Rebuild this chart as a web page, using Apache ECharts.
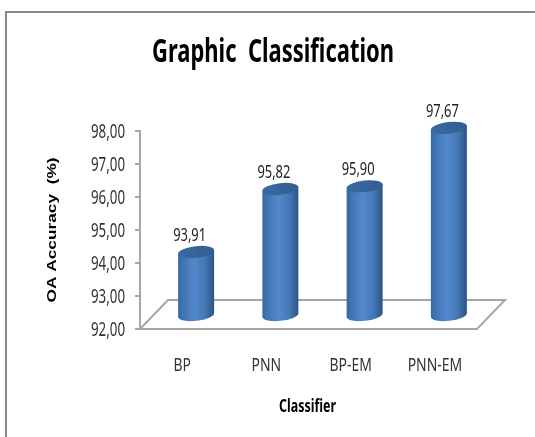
<!DOCTYPE html>
<html>
<head>
<meta charset="utf-8">
<style>html,body{margin:0;padding:0;background:#fff}#chart{width:535px;height:437px}</style>
<script src="https://cdn.jsdelivr.net/npm/echarts@6/dist/echarts.min.js"></script>
</head>
<body>
<div id="chart"></div>
<script>
// Classifier accuracy, drawn as pseudo-3D cylinders standing on a floor plane.
const categories = ['BP', 'PNN', 'BP-EM', 'PNN-EM'];
const accuracy = [93.91, 95.82, 95.90, 97.67];
const yTickValues = [92, 93, 94, 95, 96, 97, 98];
const chartTitle = 'Graphic  Classification';
const xTitle = 'Classifier';
const yTitle = 'OA Accuracy  (%)';

const FAMILY = '"Noto Sans",sans-serif';
const DEPTH = { x: 14, y: -14 };     // offset of the bar row from the front axis plane
const FLOOR = { x: 28, y: -29 };     // full depth of the floor plane
const RX = 18, RY = 5.8, TILT = -6.5; // cylinder cap ellipse
const yMin = yTickValues[0], yMax = yTickValues[yTickValues.length - 1];

const comma = v => v.toFixed(2).replace('.', ',');

// Horizontal scale that squeezes a string to a given pixel width.
const ruler = document.createElement('canvas').getContext('2d');
function fit(text, font, width) {
  ruler.font = font;
  return width / ruler.measureText(text).width;
}

const TICK_FONT = '19px ' + FAMILY;
const VALUE_FONT = '18px ' + FAMILY;
const CAT_FONT = '18px ' + FAMILY;
const tickScale = fit('98,00', TICK_FONT, 34);
const valueScale = fit('93,91', VALUE_FONT, 33);
const catScale = fit('PNN-EM', CAT_FONT, 54.5);

function cylinder(params, api) {
  const p = api.coord([api.value(0), api.value(1)]);
  const b = api.coord([api.value(0), yMin]);
  const cx = p[0] + DEPTH.x;
  const top = p[1] + DEPTH.y, bot = b[1] + DEPTH.y;
  const dy = RX * Math.sin(-TILT * Math.PI / 180);
  const l = cx - RX, r = cx + RX;
  const body = `M${l} ${top + dy}L${l} ${bot + dy}A${RX} ${RY} ${TILT} 0 0 ${r} ${bot - dy}L${r} ${top - dy}Z`;
  const cap = `M${l} ${top + dy}A${RX} ${RY} ${TILT} 1 1 ${r} ${top - dy}A${RX} ${RY} ${TILT} 1 1 ${l} ${top + dy}Z`;
  return {
    type: 'group',
    children: [
      { type: 'path', shape: { pathData: body },
        style: { fill: new echarts.graphic.LinearGradient(0, 0, 1, 0, [
          { offset: 0, color: '#37679f' }, { offset: 0.12, color: '#3f74b3' },
          { offset: 0.45, color: '#5389cc' }, { offset: 0.75, color: '#4377b5' },
          { offset: 0.92, color: '#345f92' }, { offset: 1, color: '#2d5482' }
        ]) } },
      { type: 'path', shape: { pathData: cap },
        style: { fill: new echarts.graphic.LinearGradient(0, 0, 1, 0, [
          { offset: 0, color: '#3a6aa2' }, { offset: 1, color: '#315e92' }
        ]) } },
      { type: 'text', x: cx - 6.5, y: top - 16, scaleX: valueScale,
        style: { text: comma(api.value(1)), align: 'center', verticalAlign: 'middle', font: VALUE_FONT, fill: '#222' } }
    ]
  };
}

function floorPlane(params, api) {
  const a = api.coord([0, yMin]);
  const w = api.size([1, 0])[0];
  const x0 = a[0] - w / 2, x1 = x0 + categories.length * w, y = a[1];
  return {
    type: 'polygon',
    shape: { points: [[x0, y], [x1, y], [x1 + FLOOR.x, y + FLOOR.y], [x0 + FLOOR.x, y + FLOOR.y]] },
    style: { fill: '#fff', stroke: '#a6a6a6', lineWidth: 2 }
  };
}

function tickLabel(params, api) {
  const p = api.coord([0, api.value(0)]);
  return { type: 'text', x: 125, y: p[1] + 1.5, scaleX: tickScale,
    style: { text: comma(api.value(0)), align: 'right', verticalAlign: 'middle', font: TICK_FONT, fill: '#333' } };
}

function categoryLabel(params, api) {
  const p = api.coord([api.value(0), yMin]);
  return { type: 'text', x: p[0], y: p[1] + 36.5, scaleX: catScale,
    style: { text: categories[api.value(0)], align: 'center', verticalAlign: 'middle', font: CAT_FONT, fill: '#333' } };
}

function stretchedText(text, font, width, x, y, extra) {
  return Object.assign({
    type: 'text', silent: true, x, y, scaleX: fit(text, font, width),
    style: { text, font, align: 'center', verticalAlign: 'middle', fill: '#000' }
  }, extra);
}

const chart = echarts.init(document.getElementById('chart'), null, { renderer: 'canvas' });
chart.setOption({
  animation: false,
  backgroundColor: '#fff',
  graphic: [
    { type: 'polyline', silent: true, shape: { points: [[6, 437], [6, 12], [535, 12]] },
      style: { fill: 'none', stroke: '#8a8a8a', lineWidth: 2 } },
    stretchedText(chartTitle, 'bold 32px ' + FAMILY, 242, 273, 53),
    stretchedText(xTitle, 'bold 17px ' + FAMILY, 57, 307.5, 407.5),
    stretchedText(yTitle, 'bold 13px "Liberation Sans",sans-serif', 145, 52, 230, { rotation: Math.PI / 2 })
  ],
  grid: { left: 140, top: 131, width: 337, height: 198 },
  xAxis: { type: 'category', data: categories, axisLine: { show: false }, axisTick: { show: false }, axisLabel: { show: false } },
  yAxis: { type: 'value', min: yMin, max: yMax, interval: 1,
    axisLine: { show: true, lineStyle: { color: '#a6a6a6', width: 2 } },
    axisTick: { show: true, length: 5, lineStyle: { color: '#a6a6a6', width: 2 } },
    splitLine: { show: false }, axisLabel: { show: false } },
  series: [
    { type: 'custom', renderItem: floorPlane, data: [[0, yMin]], silent: true, z: 1 },
    { type: 'custom', renderItem: cylinder, clip: false, z: 2,
      data: categories.map((c, i) => [i, accuracy[i]]) },
    { type: 'custom', renderItem: tickLabel, clip: false, silent: true,
      encode: { y: 0 }, data: yTickValues.map(v => [v]) },
    { type: 'custom', renderItem: categoryLabel, clip: false, silent: true,
      data: categories.map((c, i) => [i]) }
  ]
});
</script>
</body>
</html>
